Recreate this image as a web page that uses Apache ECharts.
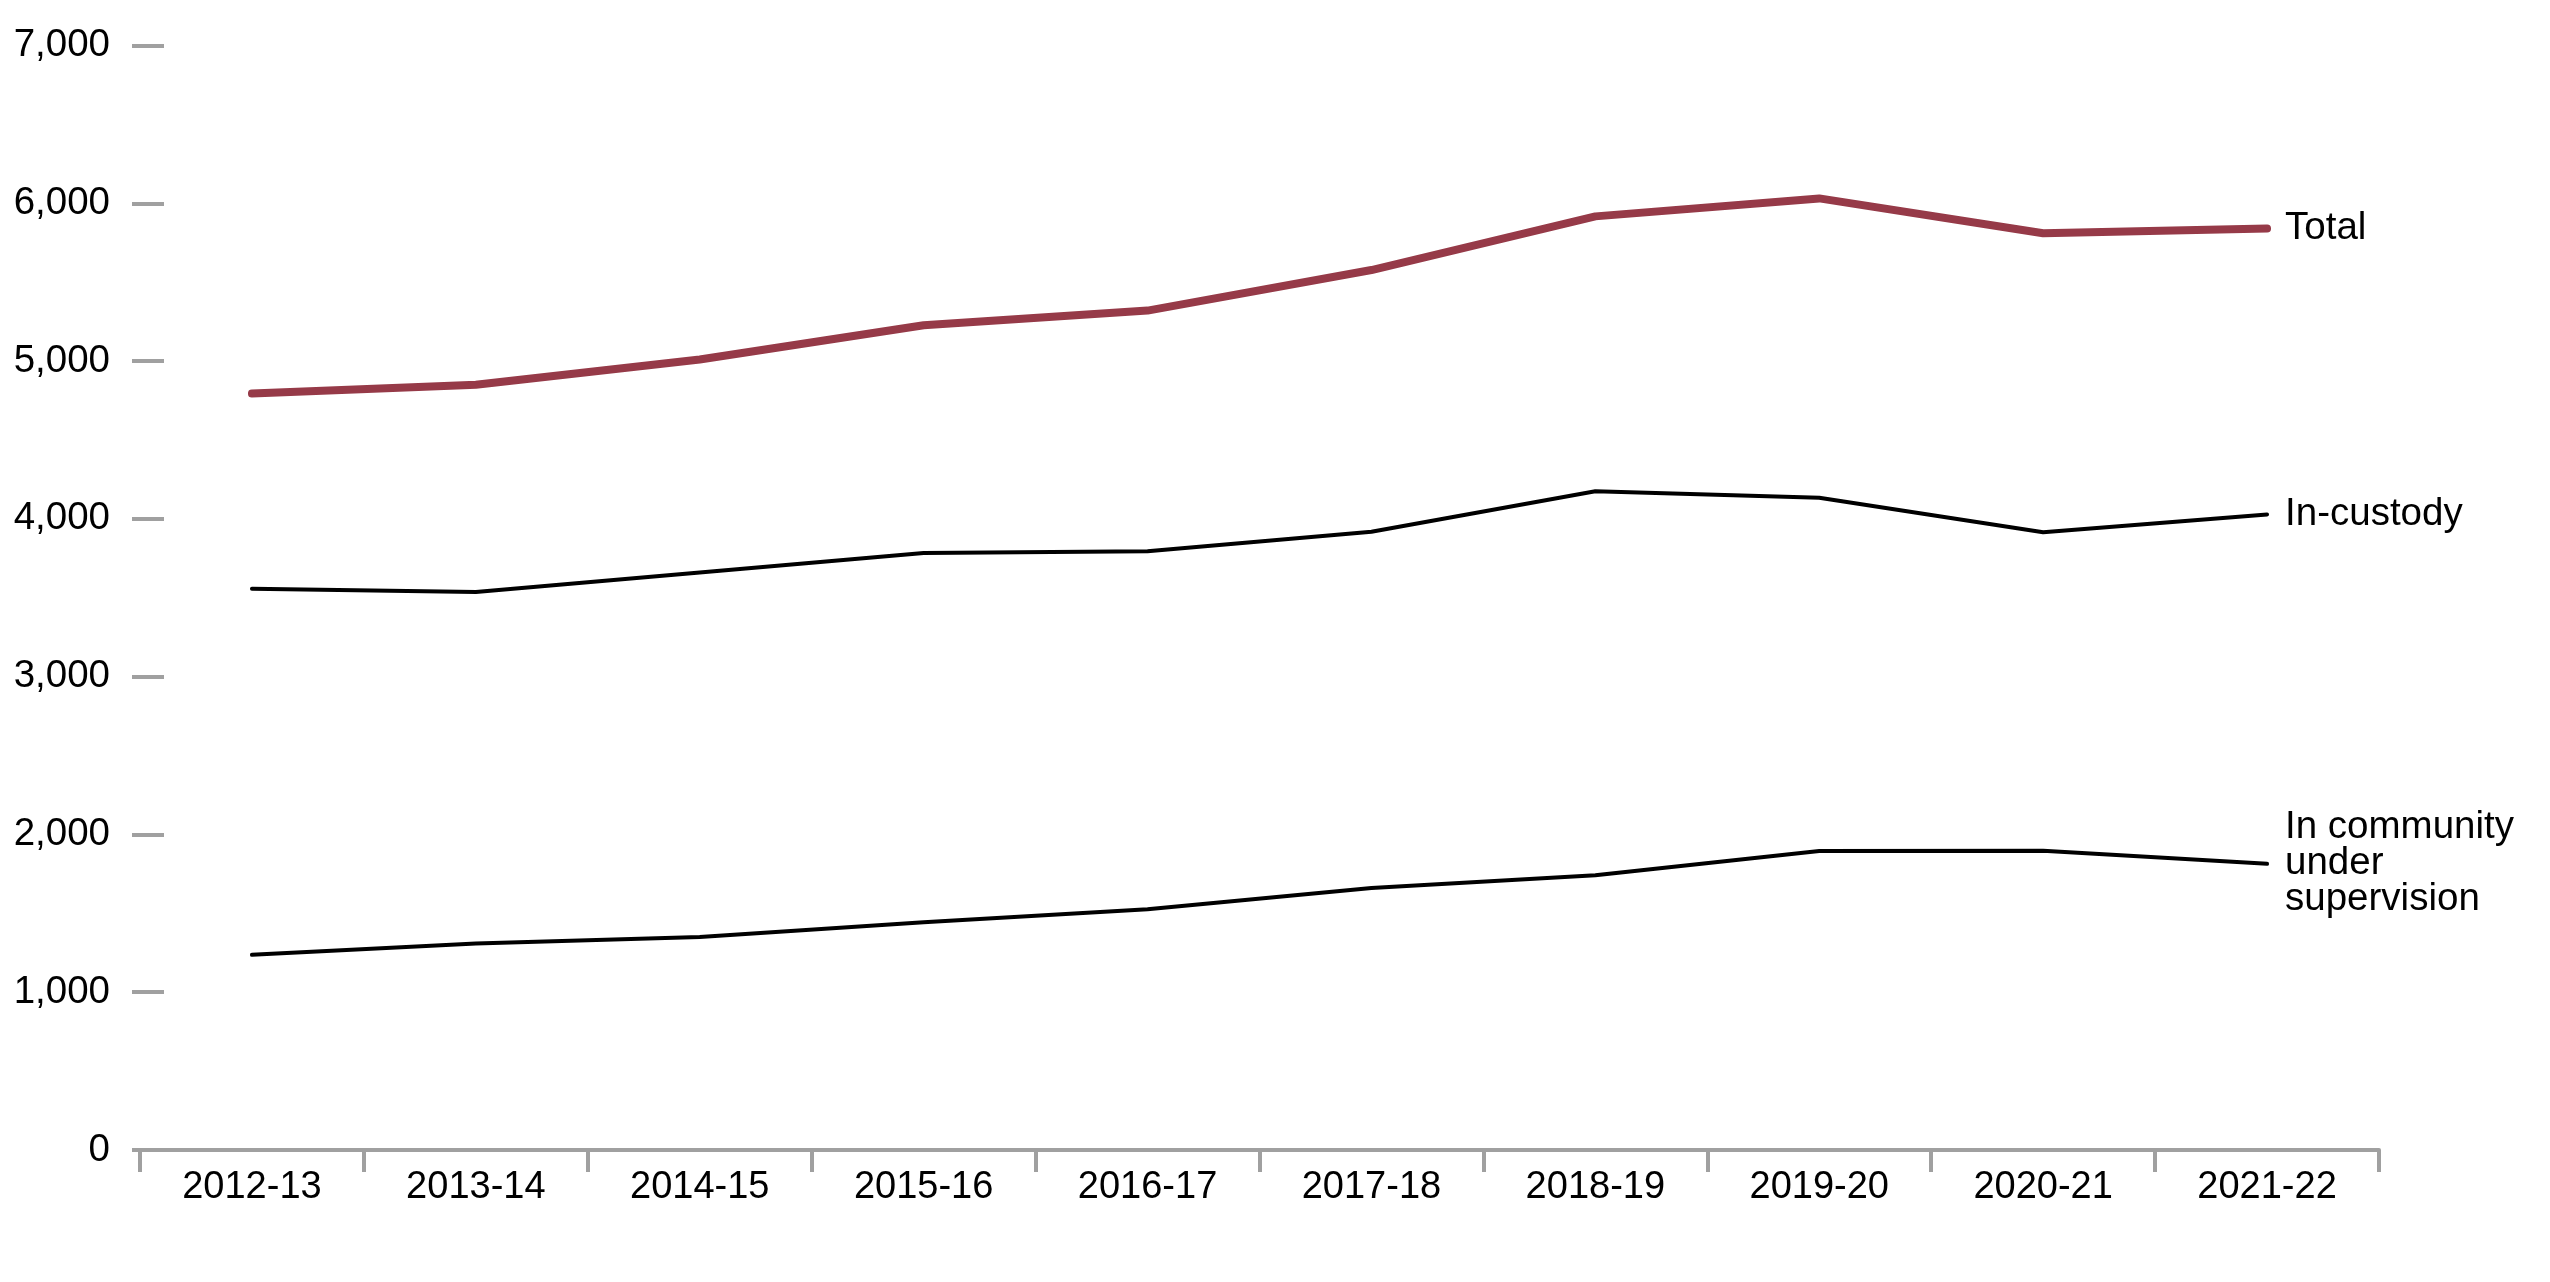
<!DOCTYPE html>
<html>
<head>
<meta charset="utf-8">
<script src="https://cdn.jsdelivr.net/npm/echarts@6/dist/echarts.min.js"></script>
<style>
html,body{margin:0;padding:0;background:#fff;}
#chart{width:2550px;height:1282px;}
</style>
</head>
<body>
<div id="chart"></div>
<script>
const categories = ['2012-13','2013-14','2014-15','2015-16','2016-17','2017-18','2018-19','2019-20','2020-21','2021-22'];
const totalValues = [4794, 4850, 5010, 5227, 5320, 5577, 5917, 6031, 5810, 5840];
const custodyValues = [3557, 3536, 3660, 3783, 3794, 3918, 4175, 4134, 3915, 4028];
const communityValues = [1237, 1309, 1350, 1443, 1526, 1660, 1742, 1895, 1897, 1814];
const seriesNames = ['Total', 'In-custody', 'In community\nunder\nsupervision'];
const yTicks = [0, 1000, 2000, 3000, 4000, 5000, 6000, 7000];

const FONT = 'Liberation Sans';
const chart = echarts.init(document.getElementById('chart'));

function endLabel(){
  return {show:true, formatter: p => p.seriesName, distance: 18, fontFamily: FONT, fontSize: 38.5, lineHeight: 36, color: '#000'};
}

chart.setOption({
  animation: false,
  backgroundColor: '#fff',
  grid: {left: 140, right: 171, top: 45.5, bottom: 132, containLabel: false},
  xAxis: {
    type: 'category',
    data: categories,
    boundaryGap: true,
    axisLine: {show: true, lineStyle: {color: '#a0a0a0', width: 4}},
    axisTick: {show: true, length: 22, lineStyle: {color: '#a0a0a0', width: 4}},
    axisLabel: {fontFamily: FONT, fontSize: 38, color: '#000', margin: 19},
    splitLine: {show: false}
  },
  yAxis: {
    type: 'value',
    min: yTicks[0],
    max: yTicks[yTicks.length - 1],
    interval: 1000,
    offset: -24,
    axisLine: {show: false},
    axisTick: {show: true, length: 32, lineStyle: {color: '#a0a0a0', width: 4}},
    axisLabel: {fontFamily: FONT, fontSize: 38.5, color: '#000', margin: 54,
      formatter: v => v.toLocaleString('en-US')},
    splitLine: {show: false}
  },
  series: [
    {name: seriesNames[0], type: 'line', data: totalValues, symbol: 'none',
      lineStyle: {color: '#963a48', width: 8, cap: 'round', join: 'round'}, endLabel: endLabel(), z: 3},
    {name: seriesNames[1], type: 'line', data: custodyValues, symbol: 'none',
      lineStyle: {color: '#000', width: 4, cap: 'round'}, endLabel: endLabel()},
    {name: seriesNames[2], type: 'line', data: communityValues, symbol: 'none',
      lineStyle: {color: '#000', width: 4, cap: 'round'}, endLabel: endLabel()}
  ]
});
</script>
</body>
</html>
